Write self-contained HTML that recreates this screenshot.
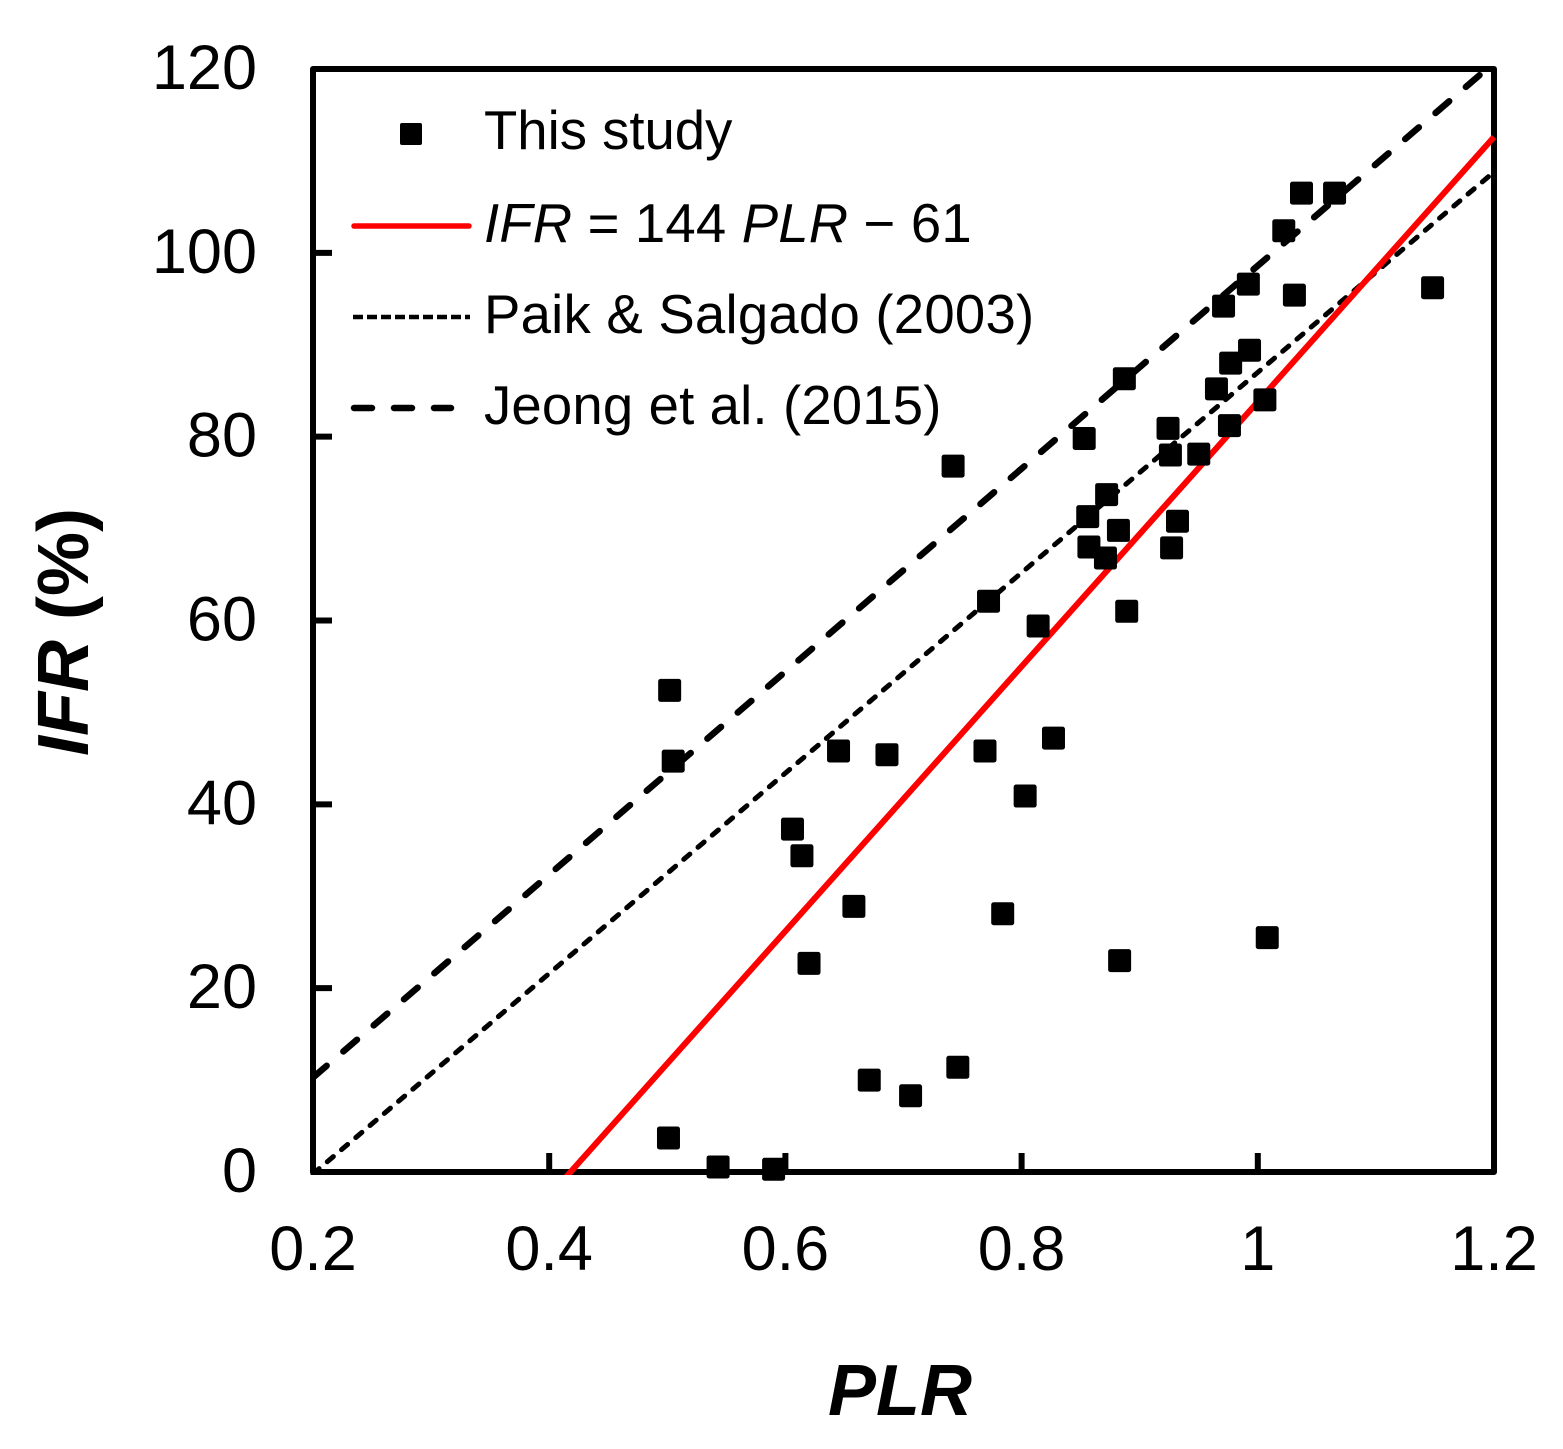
<!DOCTYPE html>
<html lang="en">
<head>
<meta charset="utf-8">
<title>IFR versus PLR</title>
<style>
html,body{margin:0;padding:0;background:#fff;}
svg{display:block;font-family:"Liberation Sans",Arial,sans-serif;}
</style>
</head>
<body>
<svg id="chart" xmlns="http://www.w3.org/2000/svg" width="1563" height="1449" viewBox="0 0 1563 1449">
  <defs><clipPath id="plot-clip"><rect x="310" y="66" width="1187" height="1109"/></clipPath></defs>
  <rect x="0" y="0" width="1563" height="1449" fill="#fff"/>
  <g id="axes"></g>
  <g id="lines" clip-path="url(#plot-clip)"></g>
  <g id="points"></g>
  <text x="900" y="1415" font-size="72" font-weight="bold" font-style="italic" text-anchor="middle">PLR</text>
  <text transform="translate(88 632) rotate(-90)" font-size="72" font-weight="bold" text-anchor="middle"><tspan font-style="italic">IFR</tspan> (%)</text>
  <g font-size="54.5">
    <rect x="400" y="123" width="22" height="22" rx="2" fill="#000"/>
    <text x="484" y="149">This study</text>
    <line x1="354" y1="226" x2="469" y2="226" stroke="#f00" stroke-width="5.5" stroke-linecap="round"/>
    <text x="484" y="242" letter-spacing="0.17"><tspan font-style="italic">IFR</tspan> = 144 <tspan font-style="italic">PLR</tspan> − 61</text>
    <line x1="353" y1="317" x2="470" y2="317" stroke="#000" stroke-width="4.5" stroke-dasharray="10 4"/>
    <text x="484" y="333" letter-spacing="0.24">Paik &amp; Salgado (2003)</text>
    <line x1="354" y1="408" x2="451" y2="408" stroke="#000" stroke-width="6.5" stroke-dasharray="18 22" stroke-linecap="round"/>
    <text x="484" y="424" letter-spacing="0.16">Jeong et al. (2015)</text>
  </g>
</svg>
<script>
const xTicks = [0.2, 0.4, 0.6, 0.8, 1, 1.2];
const yTicks = [0, 20, 40, 60, 80, 100, 120];
const plr = [0.501, 0.543, 0.590, 0.502, 0.505, 0.606, 0.614, 0.620, 0.645, 0.658, 0.671, 0.686, 0.706, 0.742, 0.746, 0.769, 0.772, 0.784, 0.803, 0.814, 0.827, 0.853, 0.856, 0.857, 0.871, 0.872, 0.882, 0.883, 0.887, 0.889, 0.924, 0.926, 0.927, 0.932, 0.950, 0.965, 0.971, 0.976, 0.977, 0.992, 0.993, 1.006, 1.008, 1.022, 1.031, 1.037, 1.065, 1.148];
const ifr = [3.7, 0.55, 0.3, 52.4, 44.7, 37.3, 34.4, 22.7, 45.8, 28.9, 10, 45.4, 8.3, 76.8, 11.4, 45.8, 62.1, 28.1, 40.9, 59.4, 47.2, 79.8, 71.3, 68, 66.8, 73.7, 69.8, 23, 86.3, 61, 80.9, 78, 67.9, 70.8, 78.1, 85.2, 94.2, 81.2, 88, 96.6, 89.4, 84, 25.5, 102.4, 95.4, 106.5, 106.5, 96.2];
const fitLine = [144, -60.2];
const paikLine = [109, -22];
const jeongLine = [110.4, -11.8];
const lineEnds = [0.2, 1.2];

const SVG_NS = 'http://www.w3.org/2000/svg';
const xScale = v => 313 + (v - 0.2) * 1181;
const yScale = v => 1172 - v * (1103 / 120);

function make(tag, parent, attrs) {
  const el = document.createElementNS(SVG_NS, tag);
  for (const k in attrs) el.setAttribute(k, attrs[k]);
  parent.appendChild(el);
  return el;
}

const axes = document.getElementById('axes');
const frame = make('rect', axes, {x: xScale(0.2), y: yScale(120), width: xScale(1.2) - xScale(0.2), height: yScale(0) - yScale(120), fill: 'none', stroke: '#000', 'stroke-width': 6, 'stroke-linejoin': 'round'});



xTicks.forEach(t => {
  const x = xScale(t);
  const tick = make('line', axes, {x1: x, x2: x, y1: yScale(0), y2: yScale(0) - 19, stroke: '#000', 'stroke-width': 6});
  
  
  const label = make('text', axes, {x: x, y: 1270, 'font-size': 63, 'text-anchor': 'middle'});
  
  
  label.textContent = String(t);
});

yTicks.forEach(t => {
  const y = yScale(t);
  const tick = make('line', axes, {x1: xScale(0.2), x2: xScale(0.2) + 19, y1: y, y2: y, stroke: '#000', 'stroke-width': 6});
  
  
  const label = make('text', axes, {x: 257, y: y + 20, 'font-size': 63, 'text-anchor': 'end'});
  
  
  label.textContent = String(t);
});

const lines = document.getElementById('lines');
function drawLine(coef, attrs) {
  const f = x => coef[0] * x + coef[1];
  return make('line', lines, Object.assign({
    x1: xScale(lineEnds[0]), y1: yScale(f(lineEnds[0])),
    x2: xScale(lineEnds[1]), y2: yScale(f(lineEnds[1])),
    stroke: '#000', fill: 'none'
  }, attrs));
}
const jeong = drawLine(jeongLine, {'stroke-width': 6.5, 'stroke-dasharray': '18 22', 'stroke-linecap': 'round'});


const paik = drawLine(paikLine, {'stroke-width': 5, 'stroke-dasharray': '8 10.7', 'stroke-linecap': 'round'});


const fit = drawLine(fitLine, {stroke: '#f00', 'stroke-width': 6});



const points = document.getElementById('points');
plr.forEach((p, i) => {
  const size = 23;
  const pt = make('rect', points, {x: xScale(p) - size / 2, y: yScale(ifr[i]) - size / 2, width: size, height: size, rx: 2.5, fill: '#000'});
  
  
});
</script>
</body>
</html>
